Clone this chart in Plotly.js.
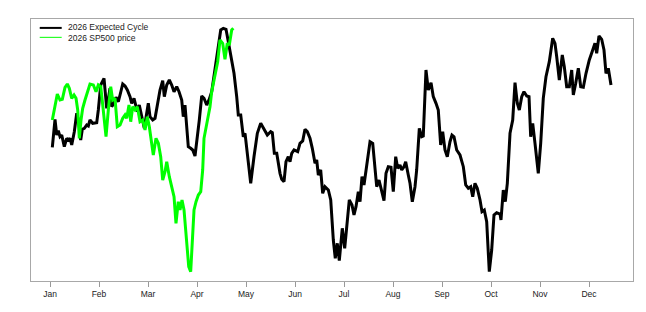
<!DOCTYPE html>
<html>
<head>
<meta charset="utf-8">
<script src="https://cdn.plot.ly/plotly-3.0.1.min.js"></script>
<style>
html,body{margin:0;padding:0;background:#fff;}
#chart{width:646px;height:312px;}
</style>
</head>
<body>
<div id="chart"></div>
<script>
// x positions in months (0 = Jan tick, 11 = Dec tick); y in an arbitrary cycle index
var cycleX = [0.047,0.102,0.137,0.169,0.204,0.239,0.292,0.341,0.373,0.408,0.443,0.496,0.545,0.592,0.627,0.659,0.7,0.749,0.782,0.816,0.871,0.918,0.953,0.986,1.035,1.102,1.157,1.198,1.224,1.259,1.306,1.347,1.394,1.429,1.484,1.531,1.578,1.633,1.667,1.714,1.755,1.782,1.822,1.871,1.904,1.924,1.973,2.006,2.041,2.096,2.143,2.19,2.245,2.3,2.333,2.382,2.435,2.484,2.531,2.586,2.633,2.688,2.72,2.755,2.802,2.822,2.871,2.912,2.959,2.994,3.047,3.096,3.143,3.198,3.245,3.3,3.367,3.435,3.484,3.537,3.592,3.639,3.694,3.755,3.81,3.843,3.892,3.945,3.98,4.027,4.096,4.163,4.231,4.3,4.353,4.435,4.504,4.537,4.578,4.627,4.694,4.729,4.776,4.816,4.863,4.898,4.933,4.98,5.055,5.102,5.157,5.204,5.251,5.306,5.353,5.408,5.443,5.476,5.524,5.565,5.612,5.68,5.729,5.782,5.822,5.863,5.904,5.965,6.014,6.055,6.108,6.163,6.204,6.245,6.292,6.327,6.367,6.408,6.463,6.531,6.586,6.633,6.667,6.714,6.769,6.816,6.857,6.904,6.959,7.006,7.055,7.096,7.143,7.178,7.224,7.259,7.312,7.347,7.394,7.449,7.483,7.537,7.586,7.618,7.673,7.72,7.776,7.822,7.878,7.924,7.973,8.014,8.061,8.108,8.163,8.204,8.245,8.3,8.367,8.435,8.484,8.537,8.586,8.627,8.673,8.72,8.776,8.816,8.863,8.912,8.965,9.014,9.061,9.116,9.184,9.204,9.251,9.292,9.333,9.388,9.443,9.49,9.537,9.578,9.627,9.673,9.729,9.776,9.81,9.851,9.898,9.965,10.014,10.067,10.122,10.19,10.259,10.306,10.341,10.394,10.455,10.496,10.545,10.598,10.647,10.68,10.729,10.782,10.831,10.884,10.939,11.006,11.076,11.122,11.157,11.204,11.259,11.306,11.347,11.394,11.449];
var cycleY = [133.7,161.7,146,150.3,144.3,146,134.3,142.7,141,142.7,136,149.3,167.7,157.7,141,151.7,152.7,156,155,161,157.7,157.7,158.3,171,196,202.7,172.7,184.3,192.7,174.3,177.7,183.7,179.3,186,197,195,191,184.3,177.7,182.7,174.3,169.3,176,166,157.7,152.7,167.7,177.7,164.3,161,162.7,174.3,191,200.3,184.3,196,201,196,189.3,194.3,189.3,181,164.3,176,151,134.3,132.7,131,125,137.7,161,185,182.7,176,181,189.3,211,234.3,251,252.7,251.7,239.3,224.3,207.7,184.3,166,166,144.3,147.7,127.7,97.7,124.3,147.7,157.7,152.7,146,149.3,148.3,127.7,127.7,107.7,101.7,99.3,119.3,124.3,119.3,127.7,131,129.3,137.7,140,151.7,149.3,142.7,132.7,117.7,121,106,111,87.7,94.3,91,81,41,22.7,37.7,20.3,52.7,32.7,54.3,81,76,66,74.3,89.3,79.3,104.3,96,117.7,139.3,137.7,111,94.3,101,89.3,80.3,107.7,114.3,113.7,89.3,124.3,112.7,116,111,114.3,119.3,106,97.7,79.3,94.3,111,152.7,144.3,145,211,191,198.3,184.3,177.7,171,136,149.3,131,124.3,139.3,146,144.3,131,126,114.3,96,92.7,94.3,84.3,97.7,92.7,81,69.3,71,59.3,9.3,31,66,68.3,67,61,91,79.3,97.7,147.7,161,198.3,177.7,171,184.3,189.3,185,184.3,144.3,157.7,137.7,107.7,137.7,182.7,204.3,219.3,242.7,237.7,224.3,201,226,214.3,194.3,194.3,211,186,197.7,212.7,194.3,193.7,207.7,221,231,237.7,227.7,245,241.7,231,207.7,212.7,196];

var priceX = [0.047,0.096,0.149,0.204,0.251,0.306,0.353,0.394,0.443,0.49,0.531,0.565,0.598,0.633,0.667,0.714,0.761,0.816,0.884,0.939,0.986,1.035,1.076,1.143,1.19,1.239,1.279,1.327,1.373,1.429,1.484,1.531,1.565,1.612,1.647,1.688,1.735,1.782,1.837,1.891,1.939,1.986,2.027,2.061,2.108,2.163,2.211,2.259,2.3,2.347,2.382,2.435,2.484,2.531,2.571,2.618,2.653,2.694,2.735,2.776,2.831,2.871,2.904,2.939,2.98,3.027,3.076,3.116,3.143,3.184,3.231,3.265,3.3,3.347,3.388,3.422,3.469,3.524,3.571,3.618,3.659,3.708,3.741];
var priceY = [161,174.3,187,181,181.7,193.7,197,192.7,182.7,186,182.7,171,142.7,161,172.7,181,187.7,197,196,189.3,196,194.3,176,144.3,171,194.3,181,182.7,154.3,156,162.7,166,162.7,176,159.3,174.3,171,174.3,159.3,161,151,164.3,154.3,144.3,126,142.7,137.7,124.3,101,109.3,119.3,104.3,94.3,84.3,57.7,79.3,71,81,71,44.3,14.3,9.3,44.3,71,79.3,86,89.3,111,142.7,152.7,164.3,174.3,189.3,201,211,219.3,241,237.7,221.7,237.7,236,251,252.7];

var monthTicks = [0,1,2,3,4,5,6,7,8,9,10,11];
var monthLabels = ["Jan","Feb","Mar","Apr","May","Jun","Jul","Aug","Sep","Oct","Nov","Dec"];
var seriesNames = ["2026 Expected Cycle","2026 SP500 price"];
var seriesColors = ["#000000","#00ff00"];

var traces = [
  {x: cycleX, y: cycleY, type: "scatter", mode: "lines", name: seriesNames[0],
   line: {color: seriesColors[0], width: 3}, hoverinfo: "skip"},
  {x: priceX, y: priceY, type: "scatter", mode: "lines", name: seriesNames[1],
   line: {color: seriesColors[1], width: 3}, hoverinfo: "skip"}
];

var font = {family: "Liberation Sans, Arial, sans-serif", size: 8.5, color: "#222"};

var layout = {
  width: 646, height: 312,
  margin: {l: 31, r: 13, t: 19, b: 31, pad: 0},
  paper_bgcolor: "#fff", plot_bgcolor: "#fff",
  showlegend: false,
  font: font,
  xaxis: {
    range: [-0.388, 11.898], tickvals: monthTicks, ticktext: monthLabels,
    ticks: "outside", ticklen: 5, tickcolor: "#999", tickwidth: 1,
    showgrid: false, zeroline: false, showline: true, mirror: true,
    linecolor: "#a8a8a8", linewidth: 1, tickfont: font, fixedrange: true
  },
  yaxis: {
    range: [0, 262], showticklabels: false, ticks: "", showgrid: false,
    zeroline: false, showline: true, mirror: true, linecolor: "#a8a8a8",
    linewidth: 1, fixedrange: true
  },
  shapes: [
    {type: "line", xref: "paper", yref: "paper", x0: 0.0145, x1: 0.051, y0: 0.966, y1: 0.966,
     line: {color: seriesColors[0], width: 2}},
    {type: "line", xref: "paper", yref: "paper", x0: 0.0145, x1: 0.051, y0: 0.930, y1: 0.930,
     line: {color: seriesColors[1], width: 1}}
  ],
  annotations: [
    {xref: "paper", yref: "paper", x: 0.0595, y: 0.948, xanchor: "left", yanchor: "middle",
     align: "left", text: seriesNames[0] + "<br>" + seriesNames[1], showarrow: false,
     font: font, borderpad: 0}
  ]
};

Plotly.newPlot("chart", traces, layout, {staticPlot: true, displayModeBar: false});
</script>
</body>
</html>
